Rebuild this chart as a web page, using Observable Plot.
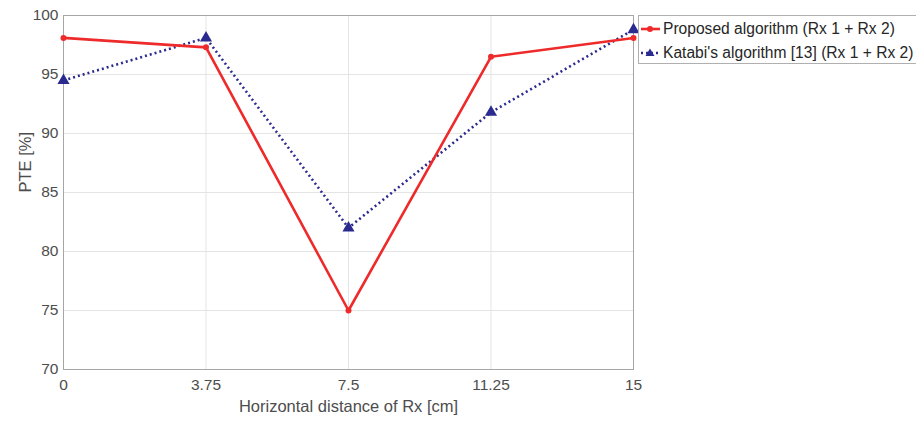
<!DOCTYPE html>
<html>
<head>
<meta charset="utf-8">
<script src="https://cdn.jsdelivr.net/npm/d3@7"></script>
<script src="https://cdn.jsdelivr.net/npm/@observablehq/plot@0.6"></script>
<style>
  body { margin: 0; background: #fff; }
  #wrap { position: relative; width: 916px; height: 423px; font-family: "Liberation Sans", Arial, sans-serif; }
  #legend { position: absolute; left: 638px; top: 15px; width: 278px; height: 49px; border: 1px solid #b0b0b0; border-right: none; box-sizing: border-box; background: #fff; }
  .row { position: absolute; left: 0; height: 20px; display: flex; align-items: center; font-size: 15.6px; color: #262626; white-space: nowrap; }
  .row svg { margin-left: 1px; margin-right: 2px; }
</style>
</head>
<body>
<div id="wrap"></div>
<script>
const distances = [0, 3.75, 7.5, 11.25, 15];
const proposed = [98.1, 97.3, 75.0, 96.5, 98.1];
const katabi = [94.5, 98.1, 82.0, 91.8, 98.8];
const seriesNames = ["Proposed algorithm (Rx 1 + Rx 2)", "Katabi's algorithm [13] (Rx 1 + Rx 2)"];
const xTicks = [0, 3.75, 7.5, 11.25, 15];
const yTicks = [70, 75, 80, 85, 90, 95, 100];
const xLabel = "Horizontal distance of Rx [cm]";
const yLabel = "PTE [%]";

const redColor = "#ee2a2a";
const blueColor = "#2b2b8f";

const pData = distances.map((d, i) => ({x: d, y: proposed[i]}));
const kData = distances.map((d, i) => ({x: d, y: katabi[i]}));

const chart = Plot.plot({
  width: 916,
  height: 423,
  marginLeft: 63,
  marginRight: 283,
  marginTop: 15,
  marginBottom: 54,
  style: {fontFamily: "'Liberation Sans', Arial, sans-serif", fontSize: "15px", background: "#fff"},
  x: {domain: [0, 15]},
  y: {domain: [70, 100]},
  marks: [
    Plot.gridX(xTicks, {stroke: "#e4e4e4", strokeOpacity: 1}),
    Plot.gridY(yTicks, {stroke: "#e4e4e4", strokeOpacity: 1}),
    Plot.frame({stroke: "#a6a6a6"}),
    Plot.line(kData, {x: "x", y: "y", stroke: blueColor, strokeWidth: 2.6, strokeDasharray: "2 3", strokeLinecap: "butt"}),
    Plot.dot(kData, {x: "x", y: "y", symbol: "triangle", r: 4.5, fill: blueColor, stroke: "none"}),
    Plot.line(pData, {x: "x", y: "y", stroke: redColor, strokeWidth: 2.6}),
    Plot.dot(pData, {x: "x", y: "y", r: 3, fill: redColor, stroke: "none"}),
    Plot.axisX(xTicks, {tickSize: 0, tickPadding: 9, fontSize: 15.5, fill: "#4d4d4d", label: null, tickFormat: d => String(d)}),
    Plot.axisY(yTicks, {tickSize: 0, tickPadding: 5, fontSize: 15.5, fill: "#4d4d4d", label: null}),
    Plot.text([yLabel], {frameAnchor: "left", dx: -38, rotate: -90, fontSize: 16.5, fill: "#4d4d4d"}),
    Plot.text([xLabel], {frameAnchor: "bottom", dy: 42, fontSize: 16.5, fill: "#4d4d4d"})
  ]
});

const wrap = document.getElementById("wrap");
wrap.appendChild(chart);

const legend = document.createElement("div");
legend.id = "legend";
const rows = [
  {name: seriesNames[0], color: redColor, dash: null, sym: "circle", top: 3},
  {name: seriesNames[1], color: blueColor, dash: "2 3", sym: "triangle", top: 27}
];
rows.forEach(r => {
  const row = document.createElement("div");
  row.className = "row";
  row.style.top = r.top + "px";
  const sym = r.sym === "circle"
    ? `<circle cx="10" cy="10" r="3" fill="${r.color}"/>`
    : `<path d="M10,5.5 L14.5,13 L5.5,13 Z" fill="${r.color}"/>`;
  row.innerHTML = `<svg width="21" height="20"><line x1="1" x2="20" y1="10" y2="10" stroke="${r.color}" stroke-width="2.6" ${r.dash ? `stroke-dasharray="${r.dash}"` : ""}/>${sym}</svg><span>${r.name}</span>`;
  legend.appendChild(row);
});
wrap.appendChild(legend);
</script>
</body>
</html>
